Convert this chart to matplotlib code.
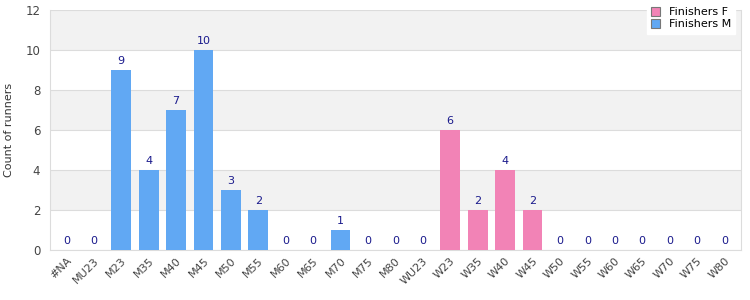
import numpy as np
import matplotlib
matplotlib.use("Agg")
from matplotlib import pyplot
from matplotlib.patches import Patch

# data
categories = ["#NA", "MU23", "M23", "M35", "M40", "M45", "M50", "M55", "M60", "M65",
              "M70", "M75", "M80", "WU23", "W23", "W35", "W40", "W45", "W50", "W55",
              "W60", "W65", "W70", "W75", "W80"]
counts = [0, 0, 9, 4, 7, 10, 3, 2, 0, 0, 1, 0, 0, 0, 6, 2, 4, 2, 0, 0, 0, 0, 0, 0, 0]
is_female = [c.startswith("W") for c in categories]

blue = "#61a8f3"
pink = "#f283b6"
label_color = "#1a1a8c"
grid_color = "#dcdcdc"

fig = pyplot.figure(figsize=(7.5, 3), dpi=100)
ax = fig.add_axes([0.0667, 0.1667, 0.921, 0.8])

x = np.arange(len(categories))
colors = [pink if f else blue for f in is_female]
bars = ax.bar(x, counts, width=0.72, color=colors, zorder=3)

# alternating bands
for lo in range(2, 12, 4):
    ax.axhspan(lo, lo + 2, color="#f2f2f2", zorder=0, lw=0)

for xi, v in zip(x, counts):
    ax.text(xi, v + 0.2, str(v), ha="center", va="bottom", fontsize=8, color=label_color, zorder=4)

ax.set_xlim(-0.6, len(categories) - 0.4)
ax.set_ylim(0, 12)
ax.set_yticks(range(0, 13, 2))
ax.yaxis.grid(True, color=grid_color, lw=0.8, zorder=1)
ax.set_axisbelow(True)
ax.set_xticks(x)
ax.set_xticklabels(categories, rotation=45, ha="right", rotation_mode="anchor", fontsize=8, color="#444444")
ax.tick_params(axis="y", labelsize=8.5, labelcolor="#444444", length=0, pad=7)
ax.tick_params(axis="x", length=0, pad=4)
ax.set_ylabel("Count of runners", fontsize=8, color="#333333", labelpad=8)
for s in ax.spines.values():
    s.set_color(grid_color)
ax.spines["top"].set_visible(False)

handles = [Patch(facecolor=pink, edgecolor="#777777", lw=0.8),
           Patch(facecolor=blue, edgecolor="#777777", lw=0.8)]
fig.legend(handles, ["Finishers F", "Finishers M"], loc="upper right",
           bbox_to_anchor=(0.988, 1.01), fontsize=8, frameon=True, fancybox=False,
           framealpha=1, edgecolor="white", facecolor="white",
           handlelength=0.8, handleheight=0.8, labelspacing=0.2, borderpad=0.4)

pyplot.savefig("out.png", dpi=100)
